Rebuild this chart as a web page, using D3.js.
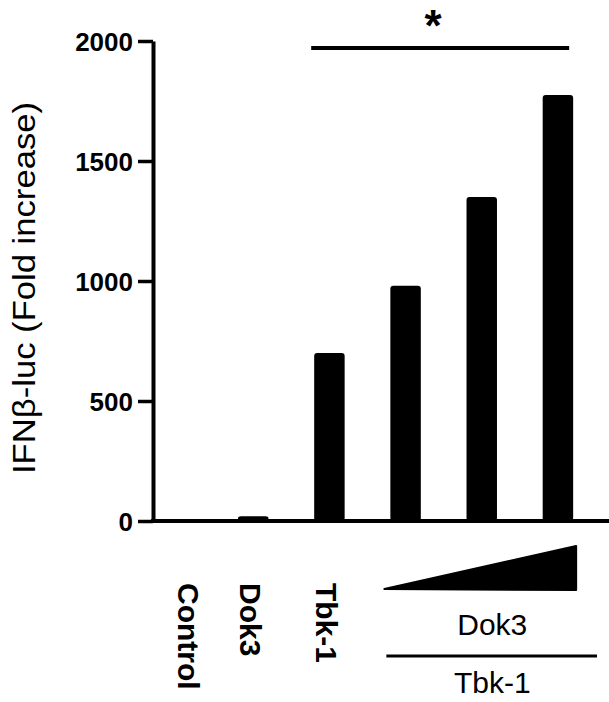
<!DOCTYPE html>
<html>
    <head>
        <meta charset="UTF-8">
        <title>IFNb-luc fold increase</title>
        <style>
            body {margin:0; background:#fff;}
            text {font-family: "Liberation Sans", Arial, sans-serif; fill:black;}
            .tick text {font-weight:bold; font-size:26px;}
            .axis line, .axis path {stroke:black;}
        </style>
        <script src="https://d3js.org/d3.v7.min.js"></script>
    </head>
    <body>
        <svg width="609" height="702"></svg>
        <script>
            //... data
            var groups = ["Control", "Dok3", "Tbk-1", "Tbk-1+Dok3 low", "Tbk-1+Dok3 mid", "Tbk-1+Dok3 high"];
            var values = [1, 20, 700, 980, 1350, 1775];
            var yTicks = [0, 500, 1000, 1500, 2000];
            var vLabels = ["Control", "Dok3", "Tbk-1"];

            var svg = d3.select("svg");

            var y = d3.scaleLinear().domain([0, 2000]).range([521, 41]);
            var x = d3.scaleBand().domain(groups)
                    .range([139, 596]).paddingInner(0.6).paddingOuter(0.3);

            //... bars
            svg.append("g").selectAll("rect")
                .data(values)
                .enter()
                .append("rect")
                .attr("x", (d, i) => x(groups[i]))
                .attr("width", x.bandwidth())
                .attr("y", d => y(d))
                .attr("height", d => y(0) - y(d))
                .attr("rx", 3)
                .style("fill", "black");

            //... y axis
            var yAxis = svg.append("g")
                .attr("class", "axis")
                .attr("transform", "translate(153,0)")
                .call(d3.axisLeft(y).tickValues(yTicks).tickFormat(d3.format("d"))
                    .tickSize(15).tickPadding(5).tickSizeOuter(0));
            yAxis.select(".domain").attr("stroke-width", 4);
            yAxis.selectAll(".tick line").attr("stroke-width", 3.5);
            yAxis.selectAll(".tick text").attr("dy", "0.36em").style("font-family", "'Liberation Sans', Arial, sans-serif");

            //... x axis baseline
            svg.append("line")
                .attr("x1", 151).attr("x2", 609)
                .attr("y1", y(0)).attr("y2", y(0))
                .attr("stroke", "black").attr("stroke-width", 4);

            //... y title
            svg.append("text")
                .attr("transform", "translate(35,288) rotate(-90)")
                .attr("text-anchor", "middle")
                .attr("textLength", 372)
                .attr("lengthAdjust", "spacingAndGlyphs")
                .style("font-size", "32px")
                .text("IFNβ-luc (Fold increase)");

            //... rotated group labels
            svg.append("g").selectAll("text")
                .data(vLabels)
                .enter()
                .append("text")
                .attr("transform", (d, i) => "translate(" + (x(groups[i]) + x.bandwidth() / 2 - 13 + (i === 0 ? 14 : 0)) + ",583) rotate(90)")
                .style("font-size", "30px")
                .style("font-weight", "bold")
                .text(d => d);

            //... Dok3 gradient wedge over the last three bars
            var x0 = x(groups[3]) - 6, x1 = x(groups[5]) + x.bandwidth() + 3;
            svg.append("path")
                .attr("d", "M" + x0 + ",589L" + x1 + ",546L" + x1 + ",590Z")
                .attr("fill", "black").attr("stroke", "black")
                .attr("stroke-width", 2).attr("stroke-linejoin", "round");

            var mid = (x0 + x1) / 2 + 12;
            svg.append("text")
                .attr("x", mid).attr("y", 635)
                .attr("text-anchor", "middle")
                .style("font-size", "30px")
                .text("Dok3");
            svg.append("line")
                .attr("x1", x0 + 2).attr("x2", 597)
                .attr("y1", 656).attr("y2", 656)
                .attr("stroke", "black").attr("stroke-width", 3);
            svg.append("text")
                .attr("x", mid).attr("y", 693)
                .attr("text-anchor", "middle")
                .style("font-size", "30px")
                .text("Tbk-1");

            //... significance bar
            var sx0 = x(groups[2]) - 3, sx1 = x(groups[5]) + x.bandwidth() - 4;
            svg.append("line")
                .attr("x1", sx0).attr("x2", sx1)
                .attr("y1", 48).attr("y2", 48)
                .attr("stroke", "black").attr("stroke-width", 4);
            svg.append("text")
                .attr("x", 433).attr("y", 41)
                .attr("text-anchor", "middle")
                .style("font-size", "44px")
                .style("font-weight", "bold")
                .text("*");
        </script>
    </body>
</html>
